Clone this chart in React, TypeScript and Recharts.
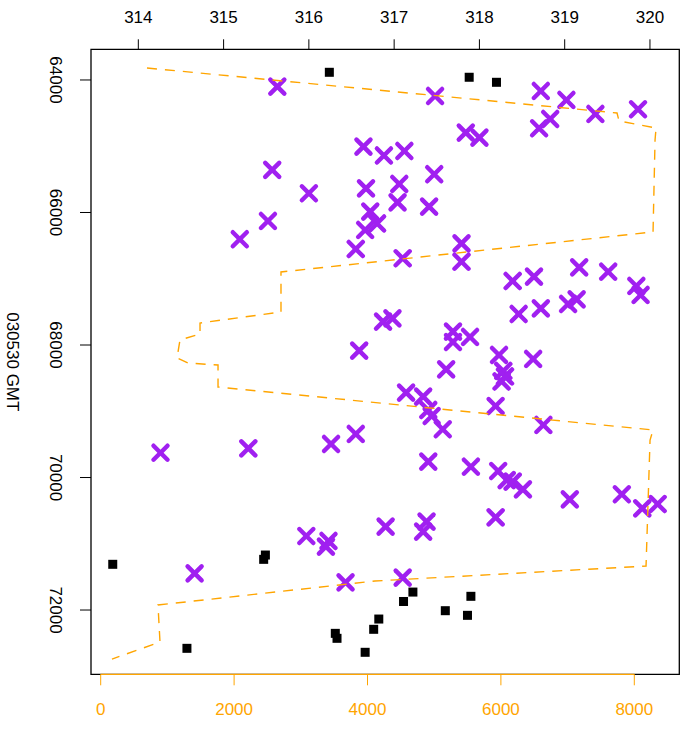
import { ComposedChart, Scatter, XAxis, YAxis, ReferenceArea, ReferenceLine } from "recharts";

// purple crosses: top axis value (314..320) and time
const crossU = [
  315.63, 316.64, 316.88, 315.57, 316.0, 316.67, 316.72, 316.8, 315.52, 316.66,
  315.19, 316.55, 316.87, 316.98, 316.59, 317.48, 318.72, 319.02, 318.83, 318.7,
  319.36, 319.86, 317.84, 318.0, 317.12, 317.47, 317.06, 317.04, 317.41, 317.79,
  317.1, 317.79, 318.39, 318.64, 319.17, 319.51, 319.84, 319.89, 318.46, 318.72,
  319.04, 319.14, 317.69, 317.69, 317.89, 318.23, 318.63, 317.61, 318.28, 318.3,
  318.26, 317.14, 317.34, 317.4, 317.44, 317.57, 318.19, 318.75, 314.26, 315.29,
  316.26, 316.55, 317.4, 317.9, 318.22, 318.32, 318.39, 318.51, 319.06, 319.67,
  319.91, 320.09, 316.9, 317.38, 317.34, 318.19, 315.97, 316.23, 316.2, 314.66,
  316.43, 317.1,
];
const crossT = [
  64101, 65007, 65140, 65358, 65710, 65635, 65988, 66166, 66128, 66264,
  66404, 66551, 67648, 67597, 68086, 64242, 64166, 64302, 64589, 64729,
  64513, 64442, 64795, 64871, 65072, 65423, 65570, 65846, 65912, 66465,
  66691, 66743, 67034, 66969, 66827, 66894, 67109, 67245, 67532, 67446,
  67381, 67310, 67799, 67955, 67879, 68151, 68211, 68367, 68392, 68475,
  68551, 68720, 68780, 68981, 69072, 69272, 68921, 69207, 69626, 69559,
  69494, 69343, 69761, 69837, 69902, 70038, 70063, 70178, 70329, 70253,
  70465, 70400, 70742, 70667, 70818, 70601, 70883, 70958, 71044, 71446,
  71582, 71512,
];

// black squares
const squareU = [
  316.24, 317.88, 318.2, 313.7, 315.49, 315.47, 314.57, 316.31, 316.33, 316.66,
  316.76, 316.82, 317.22, 317.11, 317.6, 317.86, 317.9,
];
const squareT = [
  63884, 63959, 64035, 71310, 71170, 71235, 72578, 72352, 72427, 72638,
  72291, 72136, 71729, 71871, 72010, 72080, 71793,
];

// orange dashed track (bottom axis)
const trackX = [
  694, 7741, 7771, 8326, 8311, 8281, 2703, 2703, 1489, 1489, 1189, 1144, 1309,
  1759, 1759, 8281, 8236, 8176, 4112, 859, 889, 169,
];
const trackT = [
  63819, 64498, 64619, 64725, 64906, 66294, 66898, 67502, 67668, 67834, 67924,
  68196, 68272, 68302, 68634, 69283, 69434, 71336, 71562, 71924, 72483, 72740,
];

const topTicks = [314, 315, 316, 317, 318, 319, 320];
const bottomTicks = [0, 2000, 4000, 6000, 8000];
const timeTicks = [64000, 66000, 68000, 70000, 72000];

const crosses = crossU.map((u, i) => ({ u, t: crossT[i] }));
const squares = squareU.map((u, i) => ({ u, t: squareT[i] }));
const track = trackX.map((x, i) => ({ x, t: trackT[i] }));

const PURPLE = "#A020F0";
const ORANGE = "#FFA500";
const FONT = "'Liberation Sans', Arial, sans-serif";
const FS = 17;

const topDomain = [313.445, 320.344];
const bottomDomain = [-145.4, 8674.6];
const timeDomain = [63537, 72970];

const Cross = (p: any) => {
  const { cx, cy } = p;
  const r = 7;
  return (
    <g stroke={PURPLE} strokeWidth={4.5} strokeLinecap="round">
      <line x1={cx - r} y1={cy - r} x2={cx + r} y2={cy + r} />
      <line x1={cx - r} y1={cy + r} x2={cx + r} y2={cy - r} />
    </g>
  );
};

const Square = (p: any) => <rect x={p.cx - 4.5} y={p.cy - 4.5} width={9} height={9} fill="#000" />;

const TopTick = (p: any) => (
  <text x={p.x} y={23} textAnchor="middle" fontSize={FS} fontFamily={FONT} fill="#000">
    {p.payload.value}
  </text>
);

const BottomTick = (p: any) => (
  <text x={p.x} y={715} textAnchor="middle" fontSize={FS} fontFamily={FONT} fill={ORANGE}>
    {p.payload.value}
  </text>
);

const LeftTick = (p: any) => (
  <text
    transform={`translate(50, ${p.y}) rotate(90)`}
    textAnchor="middle"
    fontSize={FS}
    fontFamily={FONT}
    fill="#000"
  >
    {p.payload.value}
  </text>
);

const YTitle = () => (
  <text
    transform="translate(7, 361.8) rotate(90)"
    textAnchor="middle"
    fontSize={FS}
    fontFamily={FONT}
    fill="#000"
  >
    030530 GMT
  </text>
);

export default function App() {
  return (
    <div style={{ position: "absolute", left: 0, top: 0, width: 681, height: 751, background: "#fff" }}>
      <ComposedChart width={681} height={751} margin={{ top: 0, right: 1.7, bottom: 0, left: 0 }}>
        <XAxis
          xAxisId="top"
          orientation="top"
          type="number"
          dataKey="u"
          domain={topDomain}
          ticks={topTicks}
          allowDataOverflow
          height={49.3}
          axisLine={false}
          tickSize={10}
          tickLine={{ stroke: "#000" }}
          tick={<TopTick />}
        />
        <XAxis
          xAxisId="bottom"
          orientation="bottom"
          type="number"
          dataKey="x"
          domain={bottomDomain}
          ticks={bottomTicks}
          allowDataOverflow
          height={76.7}
          axisLine={false}
          tickSize={11}
          tickLine={{ stroke: ORANGE }}
          tick={<BottomTick />}
        />
        <YAxis
          type="number"
          dataKey="t"
          domain={timeDomain}
          ticks={timeTicks}
          reversed
          allowDataOverflow
          width={91}
          axisLine={false}
          tickSize={11}
          tickLine={{ stroke: "#000" }}
          tick={<LeftTick />}
          label={<YTitle />}
        />
        <ReferenceArea
          xAxisId="bottom"
          x1={bottomDomain[0]}
          x2={bottomDomain[1]}
          y1={timeDomain[0]}
          y2={timeDomain[1]}
          fill="none"
          fillOpacity={0}
          stroke="#000"
          strokeWidth={1.3}
          ifOverflow="visible"
        />
        <ReferenceLine
          xAxisId="bottom"
          segment={[
            { x: 0, y: timeDomain[1] },
            { x: 8000, y: timeDomain[1] },
          ]}
          stroke={ORANGE}
          strokeWidth={1.3}
          ifOverflow="visible"
        />
        <Scatter xAxisId="top" data={crosses} shape={<Cross />} isAnimationActive={false} />
        <Scatter xAxisId="top" data={squares} shape={<Square />} isAnimationActive={false} />
        <Scatter
          xAxisId="bottom"
          data={track}
          fill="none"
          line={{ stroke: ORANGE, strokeWidth: 1.4, strokeDasharray: "10 8" }}
          lineJointType="linear"
          shape={() => <g />}
          isAnimationActive={false}
        />
      </ComposedChart>
    </div>
  );
}
